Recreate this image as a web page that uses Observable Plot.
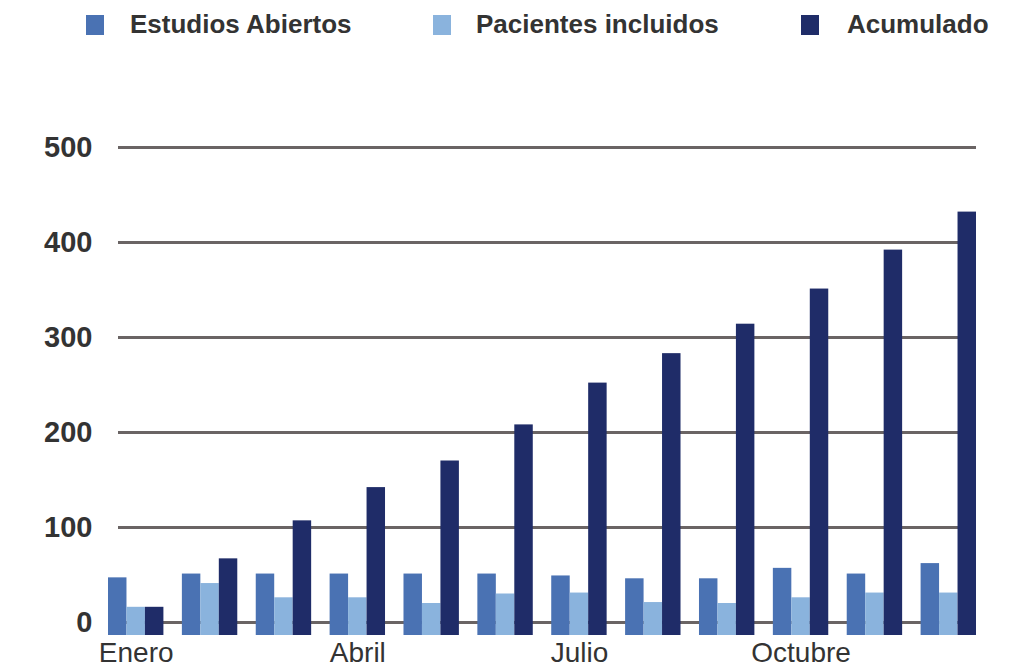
<!DOCTYPE html>
<html>
<head>
<meta charset="utf-8">
<script src="https://cdn.jsdelivr.net/npm/d3@7"></script>
<script src="https://cdn.jsdelivr.net/npm/@observablehq/plot@0.6"></script>
<style>
  html, body { margin: 0; padding: 0; background: #fff; }
  #wrap { width: 1014px; height: 668px; position: relative; overflow: hidden; }
  #legend { position: relative; height: 60px; width: 1014px; font-family: "Liberation Sans", Arial, sans-serif; }
  .sw { position: absolute; top: 15px; width: 18px; height: 20px; }
  .lt { position: absolute; top: 11px; font-size: 26px; line-height: 26px; font-weight: bold; color: #333; white-space: nowrap; }
</style>
</head>
<body>
<div id="wrap">
  <div id="legend"></div>
  <div id="chart"></div>
</div>
<script>
const months = ["Enero","Febrero","Marzo","Abril","Mayo","Junio","Julio","Agosto","Septiembre","Octubre","Noviembre","Diciembre"];
const seriesNames = ["Estudios Abiertos", "Pacientes incluidos", "Acumulado"];
const estudios = [47, 51, 51, 51, 51, 51, 49, 46, 46, 57, 51, 62];
const pacientes = [16, 41, 26, 26, 20, 30, 31, 21, 20, 26, 31, 31];
const acumulado = [16, 67, 107, 142, 170, 208, 252, 283, 314, 351, 392, 432];
const yTicks = [0, 100, 200, 300, 400, 500];
const xLabelMonths = ["Enero", "Abril", "Julio", "Octubre"];
const colors = ["#4a72b3", "#8ab3dd", "#1f2c68"];

// Legend
const legendPos = [[86, 130], [433, 476], [801, 847]];
const legend = document.getElementById("legend");
seriesNames.forEach((name, i) => {
  const sw = document.createElement("div");
  sw.className = "sw";
  sw.style.left = legendPos[i][0] + "px";
  sw.style.background = colors[i];
  legend.appendChild(sw);
  const t = document.createElement("div");
  t.className = "lt";
  t.style.left = legendPos[i][1] + "px";
  t.textContent = name;
  legend.appendChild(t);
});

// Table
const seriesValues = [estudios, pacientes, acumulado];
const rows = [];
months.forEach((m, mi) => {
  seriesValues.forEach((vals, si) => {
    rows.push({month: m, mi, series: seriesNames[si], si, key: m + "|" + si, value: vals[mi]});
  });
});

// x domain: three bars per month plus a gap slot between months
const xDomain = [];
months.forEach((m, mi) => {
  for (let si = 0; si < 3; si++) xDomain.push(m + "|" + si);
  if (mi < months.length - 1) xDomain.push(m + "|gap");
});

const chart = Plot.plot({
  width: 1014,
  height: 608,
  marginTop: 87,
  marginBottom: 46,
  marginLeft: 108,
  marginRight: 38,
  style: { fontFamily: "'Liberation Sans', Arial, sans-serif", background: "#fff", overflow: "visible" },
  x: { type: "band", domain: xDomain, padding: 0, round: false, axis: null },
  y: { domain: [0, 500], axis: null },
  color: { domain: seriesNames, range: colors },
  marks: [
    Plot.ruleY(yTicks, { stroke: "#6a6464", strokeWidth: 3, insetLeft: 10 }),
    Plot.barY(rows, { x: "key", y: "value", fill: "series", insetBottom: -13 }),
    Plot.axisY(yTicks, { anchor: "left", label: null, tickSize: 0, tickPadding: 16, fontSize: 29, fontWeight: "bold", fill: "#333" }),
    Plot.axisX(rows.filter(d => d.si === 1 && xLabelMonths.includes(d.month)).map(d => d.key), {
      anchor: "bottom", label: null, tickSize: 0, tickPadding: 20, fontSize: 28, fill: "#333",
      tickFormat: k => k.split("|")[0]
    })
  ]
});
document.getElementById("chart").appendChild(chart);
</script>
</body>
</html>
